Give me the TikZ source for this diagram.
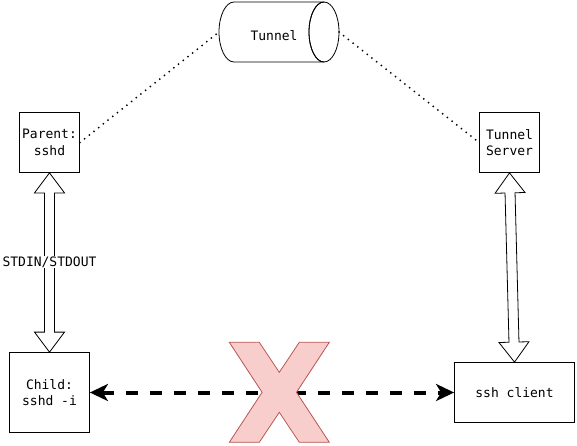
\documentclass[tikz,border=0pt]{standalone}
\usepackage{fontspec}
\setmonofont{DejaVu Sans Mono}
\usetikzlibrary{calc,arrows.meta}
\definecolor{xfill}{HTML}{F8CECC}
\definecolor{xline}{HTML}{B85450}
\tikzset{
  box/.style={draw=black, fill=white, line width=0.8pt, inner sep=0pt, align=center,
    font=\ttfamily\fontsize{13}{16.5}\selectfont},
  lbl/.style={font=\ttfamily\fontsize{13}{16.5}\selectfont, inner sep=1pt},
  dotline/.style={line width=2pt, dash pattern=on 0pt off 6pt, line cap=round},
  blocked/.style={line width=4pt, dash pattern=on 12pt off 12pt,
    {Stealth[length=18pt,width=17pt,inset=5pt]}-{Stealth[length=18pt,width=17pt,inset=5pt]}},
  hollow/.style={draw=black, fill=white, line width=0.8pt, line join=miter},
  crossx/.style={draw=xline, fill=xfill, line width=0.8pt, line join=miter}
}
\newcommand\hollowdbl[2]{%
  \draw[hollow] (#1)
    -- ($(#1)!20pt!(#2)!15pt!90:(#2)$)
    -- ($(#1)!20pt!(#2)!5pt!90:(#2)$)
    -- ($(#2)!20pt!(#1)!5pt!-90:(#1)$)
    -- ($(#2)!20pt!(#1)!15pt!-90:(#1)$)
    -- (#2)
    -- ($(#2)!20pt!(#1)!15pt!90:(#1)$)
    -- ($(#2)!20pt!(#1)!5pt!90:(#1)$)
    -- ($(#1)!20pt!(#2)!5pt!-90:(#2)$)
    -- ($(#1)!20pt!(#2)!15pt!-90:(#2)$)
    -- cycle;}
\begin{document}
\begin{tikzpicture}[x=1pt,y=-1pt]
\useasboundingbox (0,0) rectangle (577,445);

% Tunnel cylinder
\coordinate (tunW) at (219,32);
\coordinate (tunE) at (339,32);
\draw[line width=0.8pt, fill=white]
  (234,2) -- (324,2) arc[start angle=90, end angle=270, x radius=15, y radius=-30]
  -- (234,62) arc[start angle=270, end angle=90, x radius=15, y radius=-30] -- cycle;
\draw[line width=0.8pt] (324,32) ellipse[x radius=15, y radius=30];
\node[lbl] (tunnel) at (274,36) {Tunnel};

% Boxes
\node[box, minimum width=60pt, minimum height=60pt] (parent) at (49.5,142.5) {Parent:\\sshd};
\node[box, minimum width=60pt, minimum height=60pt] (tserver) at (509.5,142.5) {Tunnel\\Server};
\node[box, minimum width=80pt, minimum height=80pt] (child) at (49.5,392.5) {Child:\\sshd -i};
\node[box, minimum width=120pt, minimum height=60pt] (client) at (514.5,392.5) {ssh client};

% dotted links
\draw[dotline] (parent.east) -- (tunW);
\draw[dotline] (tunE) -- (tserver.west);

% hollow double arrows
\hollowdbl{parent.south}{child.north}
\hollowdbl{tserver.south}{client.north}
\node[lbl, fill=white] (stdio) at (49.5,262) {STDIN/STDOUT};

% blocked dashed arrow
\draw[blocked] (child.east) -- (client.west);

% red cross
\draw[crossx]
  (229.3,342.3) -- (259.3,342.3) -- (279.3,372.3) -- (299.3,342.3) -- (329.3,342.3)
  -- (296.5,392.3) -- (329.3,442.3) -- (299.3,442.3) -- (279.3,412.3) -- (259.3,442.3)
  -- (229.3,442.3) -- (262.1,392.3) -- cycle;
\end{tikzpicture}
\end{document}
